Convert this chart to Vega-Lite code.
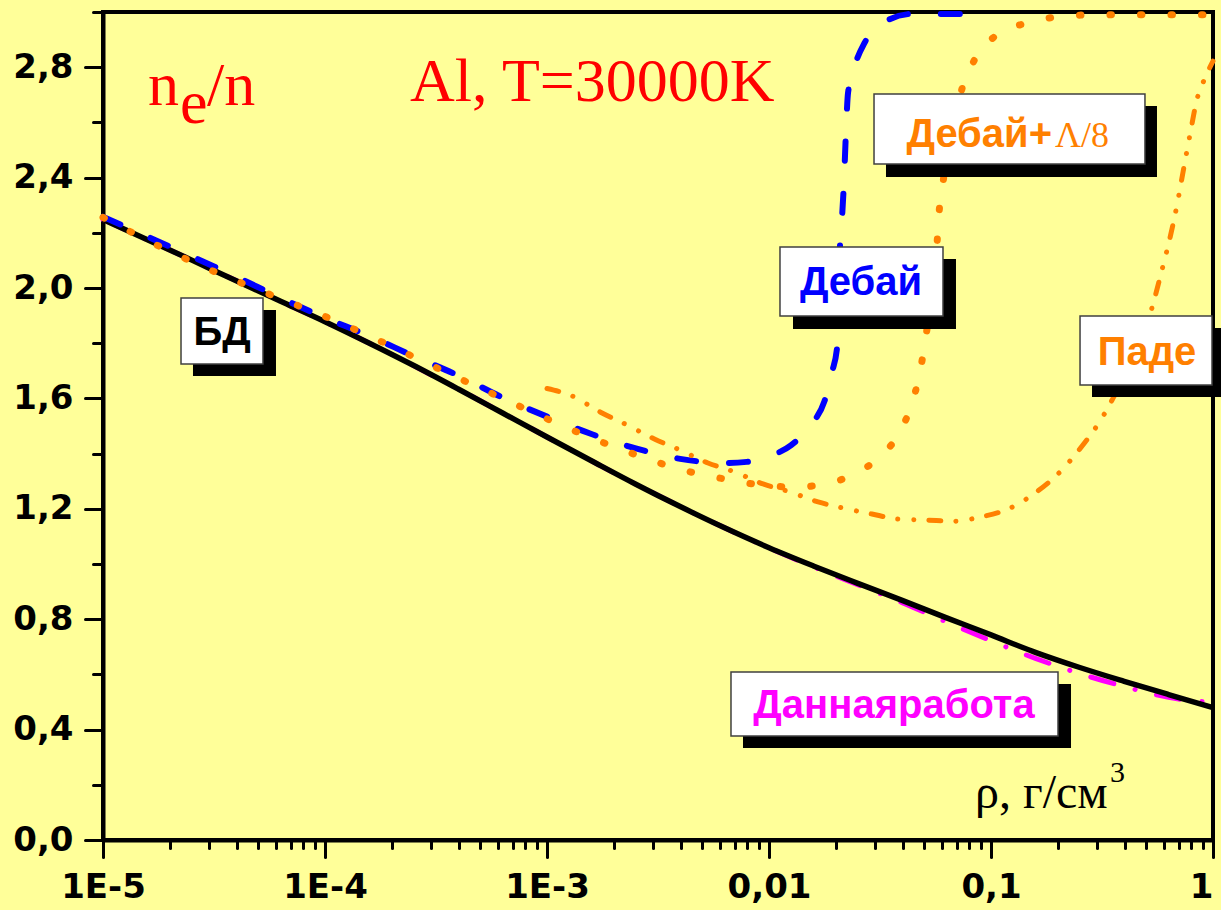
{
  "$schema": "https://vega.github.io/schema/vega-lite/v6.json",
  "width": 1110,
  "height": 828,
  "autosize": {"type": "none"},
  "padding": {"left": 103, "top": 12, "right": 8, "bottom": 70},
  "background": "#FFFF99",
  "config": {"view": {"fill": "#FFFF99", "stroke": "#000000", "strokeWidth": 4}},
  "datasets": {
    "curves": [
      {"s": "bd", "x": 0.00001, "y": 2.248}, {"s": "bd", "x": 0.00001585, "y": 2.175}, {"s": "bd", "x": 0.00002512, "y": 2.101}, {"s": "bd", "x": 0.00003981, "y": 2.026}, {"s": "bd", "x": 0.0000631, "y": 1.952}, {"s": "bd", "x": 0.0001, "y": 1.878}, {"s": "bd", "x": 0.0001585, "y": 1.8}, {"s": "bd", "x": 0.0002512, "y": 1.719}, {"s": "bd", "x": 0.0003981, "y": 1.634}, {"s": "bd", "x": 0.000631, "y": 1.547}, {"s": "bd", "x": 0.001, "y": 1.46}, {"s": "bd", "x": 0.001585, "y": 1.374}, {"s": "bd", "x": 0.002512, "y": 1.289}, {"s": "bd", "x": 0.003981, "y": 1.208}, {"s": "bd", "x": 0.00631, "y": 1.131}, {"s": "bd", "x": 0.01, "y": 1.059}, {"s": "bd", "x": 0.01585, "y": 0.993}, {"s": "bd", "x": 0.02512, "y": 0.93}, {"s": "bd", "x": 0.03981, "y": 0.868}, {"s": "bd", "x": 0.0631, "y": 0.805}, {"s": "bd", "x": 0.1, "y": 0.743}, {"s": "bd", "x": 0.1585, "y": 0.68}, {"s": "bd", "x": 0.2512, "y": 0.625}, {"s": "bd", "x": 0.3981, "y": 0.575}, {"s": "bd", "x": 0.631, "y": 0.527}, {"s": "bd", "x": 1, "y": 0.48},
      {"s": "this", "x": 0.00001, "y": 2.248}, {"s": "this", "x": 0.00002512, "y": 2.101}, {"s": "this", "x": 0.0000631, "y": 1.952}, {"s": "this", "x": 0.0001585, "y": 1.8}, {"s": "this", "x": 0.0003981, "y": 1.634}, {"s": "this", "x": 0.001, "y": 1.46}, {"s": "this", "x": 0.002512, "y": 1.289}, {"s": "this", "x": 0.00631, "y": 1.131}, {"s": "this", "x": 0.01, "y": 1.058}, {"s": "this", "x": 0.01585, "y": 0.99}, {"s": "this", "x": 0.02512, "y": 0.925}, {"s": "this", "x": 0.03981, "y": 0.86}, {"s": "this", "x": 0.0631, "y": 0.79}, {"s": "this", "x": 0.1, "y": 0.722}, {"s": "this", "x": 0.1585, "y": 0.658}, {"s": "this", "x": 0.2512, "y": 0.603}, {"s": "this", "x": 0.3981, "y": 0.556}, {"s": "this", "x": 0.631, "y": 0.517}, {"s": "this", "x": 0.7943, "y": 0.505}, {"s": "this", "x": 1, "y": 0.499},
      {"s": "debye", "x": 0.00001, "y": 2.258}, {"s": "debye", "x": 0.00003162, "y": 2.078}, {"s": "debye", "x": 0.0001, "y": 1.892}, {"s": "debye", "x": 0.0001585, "y": 1.826}, {"s": "debye", "x": 0.0002512, "y": 1.753}, {"s": "debye", "x": 0.0003981, "y": 1.683}, {"s": "debye", "x": 0.000631, "y": 1.603}, {"s": "debye", "x": 0.001, "y": 1.534}, {"s": "debye", "x": 0.001585, "y": 1.471}, {"s": "debye", "x": 0.002512, "y": 1.419}, {"s": "debye", "x": 0.003981, "y": 1.381}, {"s": "debye", "x": 0.00631, "y": 1.366}, {"s": "debye", "x": 0.007943, "y": 1.37}, {"s": "debye", "x": 0.01, "y": 1.39}, {"s": "debye", "x": 0.01259, "y": 1.431}, {"s": "debye", "x": 0.01585, "y": 1.514}, {"s": "debye", "x": 0.01778, "y": 1.59}, {"s": "debye", "x": 0.01923, "y": 1.696}, {"s": "debye", "x": 0.02025, "y": 1.783}, {"s": "debye", "x": 0.02088, "y": 2.152}, {"s": "debye", "x": 0.02132, "y": 2.254}, {"s": "debye", "x": 0.02177, "y": 2.388}, {"s": "debye", "x": 0.02223, "y": 2.572}, {"s": "debye", "x": 0.0227, "y": 2.707}, {"s": "debye", "x": 0.0244, "y": 2.808}, {"s": "debye", "x": 0.02706, "y": 2.891}, {"s": "debye", "x": 0.03436, "y": 2.971}, {"s": "debye", "x": 0.04407, "y": 2.993}, {"s": "debye", "x": 0.07479, "y": 2.993},
      {"s": "debyeL", "x": 0.00001, "y": 2.256}, {"s": "debyeL", "x": 0.00001995, "y": 2.133}, {"s": "debyeL", "x": 0.00003162, "y": 2.06}, {"s": "debyeL", "x": 0.0000631, "y": 1.961}, {"s": "debyeL", "x": 0.0001, "y": 1.897}, {"s": "debyeL", "x": 0.0001585, "y": 1.826}, {"s": "debyeL", "x": 0.0002512, "y": 1.75}, {"s": "debyeL", "x": 0.0003981, "y": 1.674}, {"s": "debyeL", "x": 0.000631, "y": 1.6}, {"s": "debyeL", "x": 0.001, "y": 1.526}, {"s": "debyeL", "x": 0.001585, "y": 1.457}, {"s": "debyeL", "x": 0.002512, "y": 1.396}, {"s": "debyeL", "x": 0.003981, "y": 1.343}, {"s": "debyeL", "x": 0.00631, "y": 1.308}, {"s": "debyeL", "x": 0.01, "y": 1.283}, {"s": "debyeL", "x": 0.01349, "y": 1.279}, {"s": "debyeL", "x": 0.01845, "y": 1.293}, {"s": "debyeL", "x": 0.02512, "y": 1.331}, {"s": "debyeL", "x": 0.03097, "y": 1.384}, {"s": "debyeL", "x": 0.03972, "y": 1.493}, {"s": "debyeL", "x": 0.04498, "y": 1.605}, {"s": "debyeL", "x": 0.04842, "y": 1.717}, {"s": "debyeL", "x": 0.05093, "y": 1.826}, {"s": "debyeL", "x": 0.05715, "y": 2.163}, {"s": "debyeL", "x": 0.05834, "y": 2.272}, {"s": "debyeL", "x": 0.06081, "y": 2.384}, {"s": "debyeL", "x": 0.07396, "y": 2.721}, {"s": "debyeL", "x": 0.08472, "y": 2.83}, {"s": "debyeL", "x": 0.1076, "y": 2.92}, {"s": "debyeL", "x": 0.1452, "y": 2.96}, {"s": "debyeL", "x": 0.1963, "y": 2.982}, {"s": "debyeL", "x": 0.2649, "y": 2.989}, {"s": "debyeL", "x": 0.5012, "y": 2.99}, {"s": "debyeL", "x": 1, "y": 2.99},
      {"s": "pade", "x": 0.001, "y": 1.636}, {"s": "pade", "x": 0.001297, "y": 1.609}, {"s": "pade", "x": 0.001734, "y": 1.551}, {"s": "pade", "x": 0.002291, "y": 1.504}, {"s": "pade", "x": 0.003062, "y": 1.452}, {"s": "pade", "x": 0.003972, "y": 1.413}, {"s": "pade", "x": 0.005309, "y": 1.366}, {"s": "pade", "x": 0.007031, "y": 1.333}, {"s": "pade", "x": 0.009397, "y": 1.29}, {"s": "pade", "x": 0.01245, "y": 1.261}, {"s": "pade", "x": 0.01663, "y": 1.225}, {"s": "pade", "x": 0.02153, "y": 1.203}, {"s": "pade", "x": 0.02911, "y": 1.181}, {"s": "pade", "x": 0.03811, "y": 1.163}, {"s": "pade", "x": 0.05152, "y": 1.159}, {"s": "pade", "x": 0.06808, "y": 1.155}, {"s": "pade", "x": 0.08913, "y": 1.17}, {"s": "pade", "x": 0.1194, "y": 1.199}, {"s": "pade", "x": 0.1578, "y": 1.257}, {"s": "pade", "x": 0.2065, "y": 1.337}, {"s": "pade", "x": 0.2594, "y": 1.431}, {"s": "pade", "x": 0.3162, "y": 1.529}, {"s": "pade", "x": 0.3548, "y": 1.601}, {"s": "pade", "x": 0.4227, "y": 1.72}, {"s": "pade", "x": 0.5309, "y": 1.928}, {"s": "pade", "x": 0.5888, "y": 2.065}, {"s": "pade", "x": 0.6397, "y": 2.181}, {"s": "pade", "x": 0.6887, "y": 2.301}, {"s": "pade", "x": 0.7328, "y": 2.42}, {"s": "pade", "x": 0.787, "y": 2.554}, {"s": "pade", "x": 0.8453, "y": 2.681}, {"s": "pade", "x": 0.9204, "y": 2.761}, {"s": "pade", "x": 1, "y": 2.822}
    ],
    "shadows": [
      {"b": "БД", "x": 0.00002543, "x2": 0.00006015, "y": 1.9203, "y2": 1.6812},
      {"b": "Дебай", "x": 0.012827, "x2": 0.06955, "y": 2.1051, "y2": 1.8514},
      {"b": "Дебай+Λ/8", "x": 0.03365, "x2": 0.5594, "y": 2.6594, "y2": 2.4022},
      {"b": "Паде", "x": 0.2851, "x2": 1.1327, "y": 1.8551, "y2": 1.6051},
      {"b": "Даннаяработа", "x": 0.007636, "x2": 0.2293, "y": 0.5652, "y2": 0.3333}
    ],
    "boxes": [
      {"b": "БД", "x": 0.00002246, "x2": 0.00005256, "y": 1.9638, "y2": 1.7246},
      {"b": "Дебай", "x": 0.011207, "x2": 0.06078, "y": 2.1486, "y2": 1.8986},
      {"b": "Дебай+Λ/8", "x": 0.02972, "x2": 0.4938, "y": 2.7029, "y2": 2.4493},
      {"b": "Паде", "x": 0.2518, "x2": 0.9897, "y": 1.8986, "y2": 1.6486},
      {"b": "Даннаяработа", "x": 0.006742, "x2": 0.20036, "y": 0.6087, "y2": 0.3768}
    ],
    "labels": [
      {"t": "БД", "x": 0.00003436, "y": 1.7935},
      {"t": "Дебай", "x": 0.02597, "y": 1.9746},
      {"t": "Паде", "x": 0.5043, "y": 1.721},
      {"t": "Даннаяработа", "x": 0.03657, "y": 0.442}
    ],
    "notes": [
      {"t": "n", "x": 0.00001595, "y": 2.663},
      {"t": "e", "x": 0.00002222, "y": 2.598},
      {"t": "/n", "x": 0.00002941, "y": 2.663},
      {"t": "Al, T=30000K", "x": 0.0002415, "y": 2.6775}
    ]
  },
  "encoding": {
    "x": {
      "field": "x", "type": "quantitative",
      "scale": {"type": "log", "domain": [0.00001, 1], "nice": false},
      "axis": {
        "title": null, "orient": "bottom", "grid": false,
        "values": [0.00001, 0.00002, 0.00003, 0.00004, 0.00005, 0.00006, 0.00007, 0.00008, 0.00009, 0.0001, 0.0002, 0.0003, 0.0004, 0.0005, 0.0006, 0.0007, 0.0008, 0.0009, 0.001, 0.002, 0.003, 0.004, 0.005, 0.006, 0.007, 0.008, 0.009, 0.01, 0.02, 0.03, 0.04, 0.05, 0.06, 0.07, 0.08, 0.09, 0.1, 0.2, 0.3, 0.4, 0.5, 0.6, 0.7, 0.8, 0.9, 1],
        "labelExpr": "abs(log(datum.value)/LN10 - round(log(datum.value)/LN10)) < 0.001 ? (datum.value < 0.005 ? '1E' + round(log(datum.value)/LN10) : replace(format(datum.value, '~g'), '.', ',')) : ''",
        "labelAlign": {"condition": {"test": "datum.value > 0.99", "value": "right"}, "value": "center"},
        "tickSize": {"condition": {"test": "abs(log(datum.value)/LN10 - round(log(datum.value)/LN10)) < 0.001", "value": 17}, "value": 8},
        "tickWidth": 3, "tickColor": "#000000", "tickCap": "round",
        "domainWidth": 4, "domainColor": "#000000",
        "labelFont": "DejaVu Sans", "labelFontWeight": "bold", "labelFontSize": 34, "labelColor": "#000000",
        "labelPadding": 13, "labelOverlap": false, "labelFlush": false, "labelBound": false
      }
    },
    "y": {
      "field": "y", "type": "quantitative",
      "scale": {"domain": [0, 3], "nice": false, "zero": false},
      "axis": {
        "title": null, "grid": false,
        "values": [0, 0.2, 0.4, 0.6, 0.8, 1.0, 1.2, 1.4, 1.6, 1.8, 2.0, 2.2, 2.4, 2.6, 2.8, 3.0],
        "labelExpr": "abs(datum.value*2.5 - round(datum.value*2.5)) < 0.01 ? replace(format(datum.value, '.1f'), '.', ',') : ''",
        "tickSize": {"condition": {"test": "abs(datum.value*2.5 - round(datum.value*2.5)) < 0.01", "value": 18}, "value": 10},
        "tickWidth": 3, "tickColor": "#000000", "tickCap": "round",
        "domainWidth": 4, "domainColor": "#000000",
        "labelFont": "DejaVu Sans", "labelFontWeight": "bold", "labelFontSize": 34, "labelColor": "#000000",
        "labelPadding": 12, "labelOverlap": false, "labelFlush": false, "labelBound": false
      }
    }
  },
  "layer": [
    {
      "data": {"name": "curves"},
      "transform": [{"filter": "datum.s === 'this'"}],
      "mark": {"type": "line", "color": "#FF00FF", "strokeWidth": 5, "strokeDash": [24, 22, 0.1, 22], "strokeCap": "round", "interpolate": "monotone"}
    },
    {
      "data": {"name": "curves"},
      "transform": [{"filter": "datum.s === 'bd'"}],
      "mark": {"type": "line", "color": "#000000", "strokeWidth": 5.5, "interpolate": "monotone"}
    },
    {
      "data": {"name": "curves"},
      "transform": [{"filter": "datum.s === 'debye'"}],
      "mark": {"type": "line", "color": "#0000FF", "strokeWidth": 6, "strokeDash": [19, 33], "strokeCap": "round", "interpolate": "monotone"}
    },
    {
      "data": {"name": "curves"},
      "transform": [{"filter": "datum.s === 'debyeL'"}],
      "mark": {"type": "line", "color": "#FF8000", "strokeWidth": 7, "strokeDash": [1.5, 29], "strokeCap": "round", "interpolate": "monotone"}
    },
    {
      "data": {"name": "curves"},
      "transform": [{"filter": "datum.s === 'pade'"}],
      "mark": {"type": "line", "color": "#FF8000", "strokeWidth": 5, "strokeDash": [12, 15, 0.1, 16, 0.1, 15], "strokeCap": "round", "interpolate": "monotone"}
    },
    {
      "data": {"name": "shadows"},
      "mark": {"type": "rect", "fill": "#000000"},
      "encoding": {"x2": {"field": "x2"}, "y2": {"field": "y2"}}
    },
    {
      "data": {"name": "boxes"},
      "mark": {"type": "rect", "fill": "#FFFFFF", "stroke": "#404040", "strokeWidth": 1.5},
      "encoding": {"x2": {"field": "x2"}, "y2": {"field": "y2"}}
    },
    {
      "data": {"name": "labels"},
      "mark": {"type": "text", "font": "Liberation Sans", "fontWeight": "bold", "fontSize": 40, "align": "center", "baseline": "alphabetic"},
      "encoding": {
        "text": {"field": "t"},
        "color": {"field": "t", "type": "nominal", "legend": null, "scale": {"domain": ["БД", "Дебай", "Паде", "Даннаяработа"], "range": ["#000000", "#0000FF", "#FF8000", "#FF00FF"]}}
      }
    },
    {
      "data": {"values": [{"t": "Дебай+", "x": 0.1883, "y": 2.5109}]},
      "mark": {"type": "text", "font": "Liberation Sans", "fontWeight": "bold", "fontSize": 40, "align": "right", "baseline": "alphabetic", "color": "#FF8000"},
      "encoding": {"text": {"field": "t"}}
    },
    {
      "data": {"values": [{"t": "Λ/8", "x": 0.1942, "y": 2.5109}]},
      "mark": {"type": "text", "font": "Liberation Serif", "fontSize": 36, "align": "left", "baseline": "alphabetic", "color": "#FF8000"},
      "encoding": {"text": {"field": "t"}}
    },
    {
      "data": {"name": "notes"},
      "mark": {"type": "text", "font": "Liberation Serif", "fontSize": 62, "align": "left", "baseline": "alphabetic", "color": "#FF0000"},
      "encoding": {"text": {"field": "t"}}
    },
    {
      "data": {"values": [{"t": "ρ, г/см", "x": 0.08471, "y": 0.1159}]},
      "mark": {"type": "text", "font": "Liberation Serif", "fontSize": 48, "align": "left", "baseline": "alphabetic", "color": "#000000"},
      "encoding": {"text": {"field": "t"}}
    },
    {
      "data": {"values": [{"t": "3", "x": 0.3436, "y": 0.2101}]},
      "mark": {"type": "text", "font": "Liberation Serif", "fontSize": 30, "align": "left", "baseline": "alphabetic", "color": "#000000"},
      "encoding": {"text": {"field": "t"}}
    }
  ]
}
